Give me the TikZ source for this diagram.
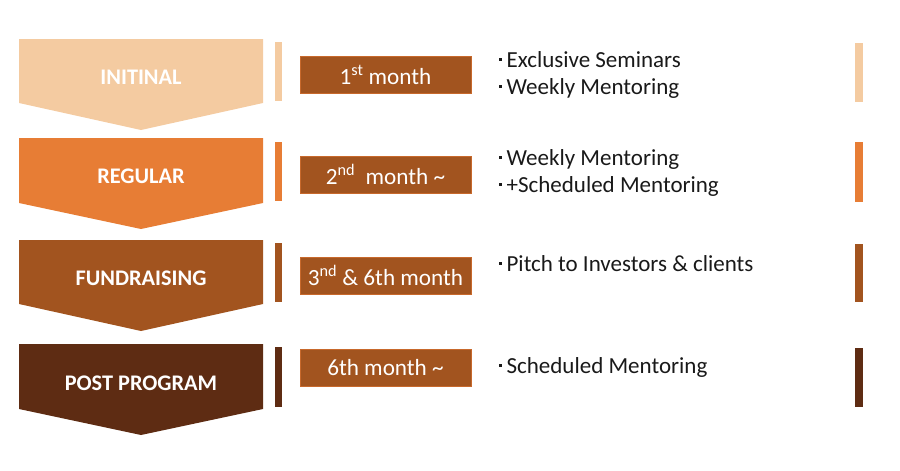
\documentclass[tikz,border=0pt]{standalone}
\usepackage{fontspec}
\setmainfont{Carlito}
\usepackage{tikz}

\definecolor{cInit}{HTML}{F4CBA1}
\definecolor{cReg}{HTML}{E77D35}
\definecolor{cFund}{HTML}{A2541F}
\definecolor{cPost}{HTML}{5E2C13}
\definecolor{cEdge}{HTML}{C8692C}

\newcommand{\stagebullet}{\rule[6.3pt]{2.6pt}{2.6pt}\hspace{4.8pt}}

\begin{document}
\begin{tikzpicture}[x=1pt, y=-1pt,
        stagelabel/.style={text=white, inner sep=0pt, font=\fontsize{22.3}{26}\selectfont\bfseries},
        monthbox/.style={fill=cFund, draw=cEdge, line width=0.6pt, minimum width=171pt, minimum height=37pt,
            inner sep=0pt, text=white, font=\fontsize{23.2}{27}\selectfont},
        item/.style={anchor=base west, inner sep=0pt, text=black!90, font=\fontsize{23}{27}\selectfont}]
        \useasboundingbox (0,0) rectangle (900,471);

        % chevrons
        \fill[cInit] (19,39) -- (263,39) -- (263,103) -- (141,130) -- (19,103) -- cycle;
        \fill[cReg] (19,138) -- (263,138) -- (263,203) -- (141,229) -- (19,203) -- cycle;
        \fill[cFund] (19,240) -- (263,240) -- (263,304) -- (141,331) -- (19,304) -- cycle;
        \fill[cPost] (19,344) -- (263,344) -- (263,409) -- (141,435) -- (19,409) -- cycle;

        \node[stagelabel] (initial) at (141,77) {INITINAL};
        \node[stagelabel] (regular) at (141,176) {REGULAR};
        \node[stagelabel] (fundraising) at (141,278) {FUNDRAISING};
        \node[stagelabel] (post) at (141,383) {POST PROGRAM};

        % thin bars
        \fill[cInit] (275,42) rectangle (282,101);
        \fill[cReg] (275,142) rectangle (282,201);
        \fill[cFund] (275,243) rectangle (282,302);
        \fill[cPost] (275,347) rectangle (282,407);

        \fill[cInit] (855,43) rectangle (863,102);
        \fill[cReg] (855,142) rectangle (863,202);
        \fill[cFund] (855,244) rectangle (863,302);
        \fill[cPost] (855,348) rectangle (863,407);

        % months
        \node[monthbox] (m1) at (385.5,75) {1\textsuperscript{st} month};
        \node[monthbox] (m2) at (385.5,174.5) {2\textsuperscript{nd}\ \ month \textasciitilde};
        \node[monthbox] (m3) at (385.5,275.5) {3\textsuperscript{nd} \& 6th month};
        \node[monthbox] (m4) at (385.5,367.5) {6th month \textasciitilde};

        % contents
        \node[item] (i1) at (499,67) {\stagebullet Exclusive Seminars};
        \node[item] (i2) at (499,94) {\stagebullet Weekly Mentoring};
        \node[item] (i3) at (499,165) {\stagebullet Weekly Mentoring};
        \node[item] (i4) at (499,192) {\stagebullet +Scheduled Mentoring};
        \node[item] (i5) at (499,271) {\stagebullet Pitch to Investors \& clients};
        \node[item] (i6) at (499,373) {\stagebullet Scheduled Mentoring};
    \end{tikzpicture}
\end{document}
